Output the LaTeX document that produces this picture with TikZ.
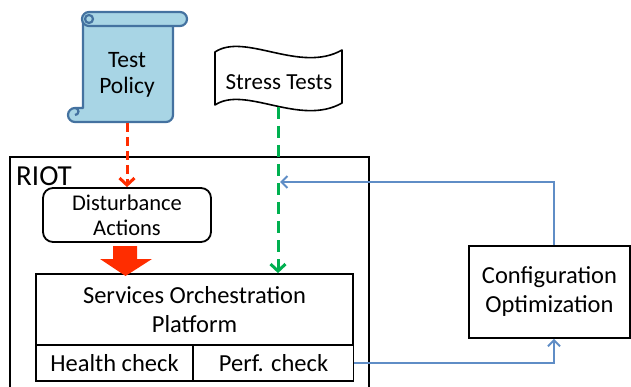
\documentclass[tikz,border=0pt]{standalone}
\usepackage{fontspec}
\setmainfont{Carlito}
\usetikzlibrary{arrows.meta}
\definecolor{policyfill}{RGB}{168,213,229}
\definecolor{policyline}{RGB}{68,114,160}
\definecolor{disturbred}{RGB}{255,45,0}
\definecolor{stressgreen}{RGB}{0,176,80}
\definecolor{feedblue}{RGB}{95,141,198}
\tikzstyle{block} = [rectangle, draw, line width=1.8pt, align=center, inner sep=0pt]
\tikzstyle{scroll} = [draw=policyline, fill=policyfill, line width=2.2pt, line join=round]
\tikzstyle{flag} = [draw, fill=white, line width=1.6pt, line join=round]
\tikzstyle{redline} = [draw=disturbred, line width=3pt, dash pattern=on 9pt off 5pt,
-{Straight Barb[length=7pt, width=15pt]}]
\tikzstyle{greenline} = [draw=stressgreen, line width=3pt, dash pattern=on 12pt off 7pt,
-{Straight Barb[length=7pt, width=15pt]}]
\tikzstyle{feedback} = [draw=feedblue, line width=2pt, -{Straight Barb[length=6pt, width=12pt]}]

\begin{document}
\begin{tikzpicture}[x=1pt, y=-1pt, font=\fontsize{24.5}{29}\selectfont]
    \useasboundingbox (0,0) rectangle (631,387);
    % Test Policy scroll
    \filldraw [scroll] (83,20) -- (83,108) -- (75,108) arc[start angle=-90, end angle=-270, radius=7]
        -- (166,122) arc[start angle=90, end angle=0, radius=7] -- (173,26) -- cycle;
    \draw [scroll] (75,108) arc[start angle=-90, end angle=90, radius=3.5];
    \filldraw [scroll, rounded corners=7pt] (82,12) rectangle (187,26);
    \draw [scroll] (89,19) circle (4);
    \node [align=center, font=\fontsize{23.5}{26}\selectfont] (policy) at (127,75) {Test\\Policy};
    \coordinate (policyout) at (127,123);
    % Stress Tests flag
    \filldraw [flag] (215,52) .. controls (245,32) and (300,74) .. (342,50) -- (342,103)
        .. controls (300,127) and (245,85) .. (215,105) -- cycle;
    \node [font=\fontsize{23}{27}\selectfont] (stress) at (279,82) {Stress Tests};
    \coordinate (stressout) at (278,107);
    % RIOT frame
    \draw [line width=1.8pt] (10,157) rectangle (369,400);
    \node [anchor=north west, inner sep=0pt, font=\fontsize{29}{33}\selectfont] (riot) at (16,166) {RIOT};
    \node [block, rounded corners=10pt, minimum width=168pt, minimum height=54pt,
        font=\fontsize{22.5}{25}\selectfont] (disturb) at (127,215) {Disturbance\\Actions};
    \node [block, minimum width=317pt, minimum height=71pt] (sop) at (194.5,309.5) {Services Orchestration\\Platform};
    \node [block, minimum width=157pt, minimum height=36pt] (health) at (114.5,363) {Health check};
    \node [block, right of=health, node distance=159pt, minimum width=160pt, minimum height=36pt] (perf) {Perf. check};
    \node [block, minimum width=161pt, minimum height=92pt] (config) at (549.5,292) {Configuration\\Optimization};
    % block arrow into the platform
    \fill [disturbred] (113,246) -- (137,246) -- (137,259) -- (152,259) -- (125.5,276) -- (100,259) -- (113,259) -- cycle;
    \coordinate (feedin) at (280,182);
    \path [redline] (policyout) -- (disturb.north);
    \path [greenline] (stressout) -- (sop.north -| stressout);
    \path [feedback] ([xshift=4.5pt]config.north) |- (feedin);
    \path [feedback] (perf.east) -| ([xshift=4.5pt]config.south);
\end{tikzpicture}
\end{document}
